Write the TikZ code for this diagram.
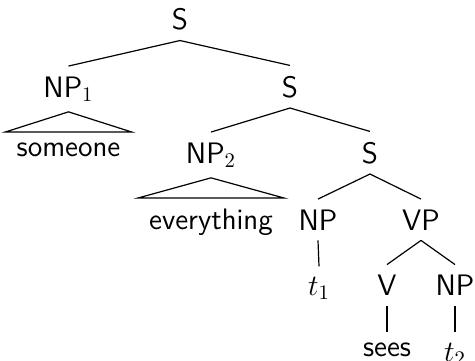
\documentclass[tikz,border=0pt]{standalone}
\usepackage{fix-cm}
\newcommand{\treefont}{\fontsize{14.8}{18}\selectfont\sffamily}
\tikzset{
  cat/.style={anchor=base, inner sep=5pt, font=\treefont},
  roofleaf/.style={anchor=base, inner ysep=5pt, inner xsep=5.5pt, font=\treefont},
  edge/.style={line width=0.6pt},
}
\begin{document}
\begin{tikzpicture}[x=0.5pt,y=-0.5pt]
\useasboundingbox (0,0) rectangle (475,360);

% categories and words
\node[cat] (s1) at (180,29.5) {S};
\node[cat] (np1) at (68.5,97) {NP$_1$};
\node[roofleaf] (someone) at (68.5,156) {someone};
\node[cat] (s2) at (290,97) {S};
\node[cat] (np2) at (211,163) {NP$_2$};
\node[roofleaf] (everything) at (211,229) {everything};
\node[cat] (s3) at (370,163) {S};
\node[cat] (np3) at (318,230) {NP};
\node[cat] (vp) at (421,230) {VP};
\node[cat] (t1) at (319,295) {$t_1$};
\node[cat] (v) at (387,295.5) {V};
\node[cat] (np4) at (455,295.5) {NP};
\node[cat] (sees) at (387,356) {sees};
\node[cat] (t2) at (455,361) {$t_2$};

% branches
\draw[edge] (s1.south) -- (np1.north);
\draw[edge] (s1.south) -- (s2.north);
\draw[edge] (s2.south) -- (np2.north);
\draw[edge] (s2.south) -- (s3.north);
\draw[edge] (s3.south) -- (np3.north);
\draw[edge] (s3.south) -- (vp.north);
\draw[edge] (np3.south) -- (t1.north);
\draw[edge] (vp.south) -- (v.north);
\draw[edge] (vp.south) -- (np4.north);
\draw[edge] (v.south) -- (sees.north);
\draw[edge] (np4.south) -- (t2.north);

% roofs over unanalysed phrases
\draw[edge] (np1.south) -- (someone.north west) -- (someone.north east) -- cycle;
\draw[edge] (np2.south) -- (everything.north west) -- (everything.north east) -- cycle;
\end{tikzpicture}
\end{document}
